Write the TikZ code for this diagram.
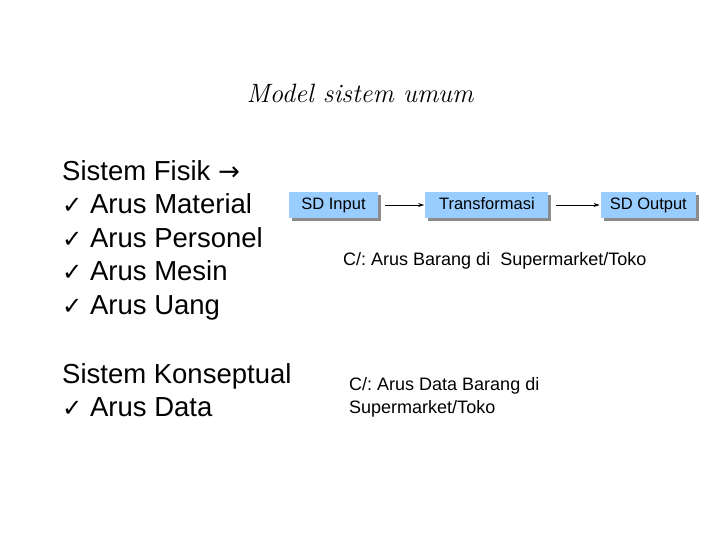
\documentclass[tikz,border=0pt]{standalone}
\usepackage{fontspec}
\setmainfont{Liberation Sans}
\newfontfamily\symfont{DejaVu Sans}
\newfontfamily\titlefont{Latin Modern Roman}
\usepackage{xcolor}
\usetikzlibrary{arrows.meta, positioning, shadows}

\definecolor{boxblue}{RGB}{153,204,255}
\newcommand{\tick}{{\symfont\scalebox{0.88}{✓}}}
\frenchspacing

\begin{document}
\begin{tikzpicture}[
      x=1pt, y=-1pt,
      node distance=47pt,
      box/.style={fill=boxblue, minimum height=26pt, inner sep=0pt,
                  text height=12pt, text depth=3pt,
                  font=\fontsize{16.5}{18}\selectfont,
                  drop shadow={shadow xshift=3pt, shadow yshift=-3pt,
                               fill=black!45, opacity=1}},
      arr/.style={-{Stealth[length=6pt, width=4pt]}, semithick,
                  shorten <=7pt, shorten >=1pt},
      bigtxt/.style={anchor=west, align=left, inner sep=0pt,
                     font=\fontsize{27.5}{33.5}\selectfont},
      smalltxt/.style={anchor=west, align=left, inner sep=0pt,
                       font=\fontsize{18}{23}\selectfont}
    ]
    \useasboundingbox (0,0) rectangle (720,540);

    \node[font=\titlefont\itshape\fontsize{26.5}{30}\selectfont] (title) at (360,93)
      {Model sistem umum};

    % physical system, left column
    \node[bigtxt] (fisik) at (62,240)
      {Sistem Fisik {\symfont\scalebox{0.95}{→}}\\
       \tick{} Arus Material\\
       \tick{} Arus Personel\\
       \tick{} Arus Mesin\\
       \tick{} Arus Uang};
    \node[bigtxt] (konsep) at (62,390)
      {Sistem Konseptual\\
       \tick{} Arus Data};

    % flow boxes
    \node[box, minimum width=89pt] (in) at (333.5,205) {SD Input};
    \node[box, minimum width=123pt, right=47pt of in] (trans) {Transformasi};
    \node[box, minimum width=95pt, right=52pt of trans] (out) {SD Output};

    \draw[arr] (in)    -- (trans);
    \draw[arr] (trans) -- (out);

    \node[smalltxt] (barang) at (343,261)
      {C/: Arus Barang di\ \ Supermarket/Toko};
    \node[smalltxt] (data) at (349,397)
      {C/: Arus Data Barang di\\Supermarket/Toko};
  \end{tikzpicture}
\end{document}
